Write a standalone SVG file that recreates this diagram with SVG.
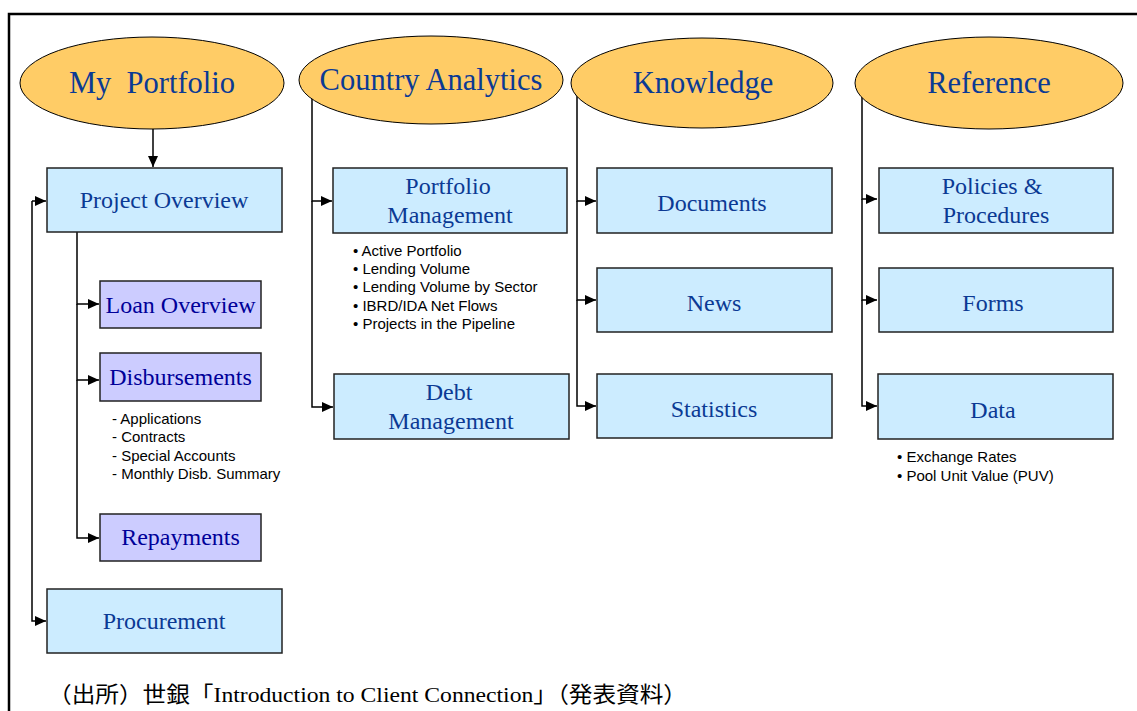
<svg xmlns="http://www.w3.org/2000/svg" width="1137" height="711" viewBox="0 0 1137 711">
  <style>
    .frame { stroke: #000; stroke-width: 2.5; fill: none; }
    .oval { fill: #FFCC66; stroke: #000; stroke-width: 1; }
    .oval-label { font-family: "Liberation Serif", "Times New Roman", serif; font-size: 30.5px; fill: #0B3A94; text-anchor: middle; }
    .box { fill: #CCECFF; stroke: #222; stroke-width: 1.5; }
    .sub { fill: #CCCCFF; stroke: #222; stroke-width: 1.5; }
    .box-label { font-family: "Liberation Serif", "Times New Roman", serif; font-size: 24px; fill: #0B3A94; text-anchor: middle; }
    .sub-label { font-family: "Liberation Serif", "Times New Roman", serif; font-size: 24px; fill: #000099; text-anchor: middle; }
    .note { font-family: "Liberation Sans", Arial, sans-serif; font-size: 15px; fill: #000; }
    .source { font-family: "Liberation Serif", "Noto Sans CJK JP", serif; font-size: 22px; fill: #000; }
    .link { stroke: #000; stroke-width: 1.5; fill: none; }
  </style>
  <defs>
    <marker id="arrow" markerUnits="userSpaceOnUse" markerWidth="12" markerHeight="10" refX="11" refY="5" orient="auto">
      <path d="M0,0 L11,5 L0,10 Z" fill="#000"/>
    </marker>
  </defs>

  <rect width="1137" height="711" fill="#fff"/>
  <!-- page frame -->
  <path class="frame" d="M9,711 V14 H1137"/>

  <!-- connectors -->
  <g id="connectors">
    <path class="link" d="M153,129 V167" marker-end="url(#arrow)"/>
    <path class="link" d="M32,201 H46" marker-end="url(#arrow)"/>
    <path class="link" d="M32,201 V621 H46" marker-end="url(#arrow)"/>
    <path class="link" d="M77,232 V304 H99" marker-end="url(#arrow)"/>
    <path class="link" d="M77,304 V380 H99" marker-end="url(#arrow)"/>
    <path class="link" d="M77,380 V538 H99" marker-end="url(#arrow)"/>

    <path class="link" d="M312,80 V201 H332" marker-end="url(#arrow)"/>
    <path class="link" d="M312,201 V407 H333" marker-end="url(#arrow)"/>

    <path class="link" d="M577,83 V201 H596" marker-end="url(#arrow)"/>
    <path class="link" d="M577,201 V300 H596" marker-end="url(#arrow)"/>
    <path class="link" d="M577,300 V406 H596" marker-end="url(#arrow)"/>

    <path class="link" d="M862,83 V199 H877" marker-end="url(#arrow)"/>
    <path class="link" d="M862,199 V300 H877" marker-end="url(#arrow)"/>
    <path class="link" d="M862,300 V406 H877" marker-end="url(#arrow)"/>
  </g>

  <!-- top-level menus -->
  <g id="my-portfolio">
    <ellipse class="oval" cx="152" cy="83" rx="132" ry="46"/>
    <text class="oval-label" x="152" y="93" xml:space="preserve">My  Portfolio</text>
  </g>
  <g id="country-analytics">
    <ellipse class="oval" cx="431" cy="80" rx="132" ry="44"/>
    <text class="oval-label" x="431" y="90">Country Analytics</text>
  </g>
  <g id="knowledge">
    <ellipse class="oval" cx="702" cy="83" rx="131" ry="45"/>
    <text class="oval-label" x="703" y="93">Knowledge</text>
  </g>
  <g id="reference">
    <ellipse class="oval" cx="989" cy="83" rx="134" ry="46"/>
    <text class="oval-label" x="989" y="93">Reference</text>
  </g>

  <!-- My Portfolio pages -->
  <g id="project-overview">
    <rect class="box" x="47" y="168" width="235" height="64"/>
    <text class="box-label" x="164" y="208">Project Overview</text>
  </g>
  <g id="loan-overview">
    <rect class="sub" x="100" y="281" width="161" height="47"/>
    <text class="sub-label" x="180.5" y="313">Loan Overview</text>
  </g>
  <g id="disbursements">
    <rect class="sub" x="100" y="353" width="161" height="48"/>
    <text class="sub-label" x="180.5" y="385">Disbursements</text>
    <text class="note" x="112" y="424">- Applications</text>
    <text class="note" x="112" y="442">- Contracts</text>
    <text class="note" x="112" y="461">- Special Accounts</text>
    <text class="note" x="112" y="479">- Monthly Disb. Summary</text>
  </g>
  <g id="repayments">
    <rect class="sub" x="100" y="514" width="161" height="47"/>
    <text class="sub-label" x="180.5" y="545">Repayments</text>
  </g>
  <g id="procurement">
    <rect class="box" x="47" y="589" width="235" height="64"/>
    <text class="box-label" x="164" y="629">Procurement</text>
  </g>

  <!-- Country Analytics pages -->
  <g id="portfolio-management">
    <rect class="box" x="333" y="168" width="234" height="65"/>
    <text class="box-label" x="448" y="194">Portfolio</text>
    <text class="box-label" x="450" y="223">Management</text>
    <text class="note" x="353" y="256">• Active Portfolio</text>
    <text class="note" x="353" y="274">• Lending Volume</text>
    <text class="note" x="353" y="292">• Lending Volume by Sector</text>
    <text class="note" x="353" y="311">• IBRD/IDA Net Flows</text>
    <text class="note" x="353" y="329">• Projects in the Pipeline</text>
  </g>
  <g id="debt-management">
    <rect class="box" x="334" y="374" width="235" height="65"/>
    <text class="box-label" x="449" y="400">Debt</text>
    <text class="box-label" x="451" y="429">Management</text>
  </g>

  <!-- Knowledge pages -->
  <g id="documents">
    <rect class="box" x="597" y="168" width="235" height="65"/>
    <text class="box-label" x="712" y="211">Documents</text>
  </g>
  <g id="news">
    <rect class="box" x="597" y="268" width="235" height="64"/>
    <text class="box-label" x="714" y="311">News</text>
  </g>
  <g id="statistics">
    <rect class="box" x="597" y="374" width="235" height="64"/>
    <text class="box-label" x="714" y="417">Statistics</text>
  </g>

  <!-- Reference pages -->
  <g id="policies-procedures">
    <rect class="box" x="879" y="168" width="234" height="65"/>
    <text class="box-label" x="992" y="194">Policies &amp;</text>
    <text class="box-label" x="996" y="223">Procedures</text>
  </g>
  <g id="forms">
    <rect class="box" x="879" y="268" width="234" height="64"/>
    <text class="box-label" x="993" y="311">Forms</text>
  </g>
  <g id="data">
    <rect class="box" x="878" y="374" width="235" height="65"/>
    <text class="box-label" x="993" y="418">Data</text>
    <text class="note" x="897" y="462">• Exchange Rates</text>
    <text class="note" x="897" y="481">• Pool Unit Value (PUV)</text>
  </g>

  <!-- source line -->
  <text class="source" x="48" y="702" textLength="639" lengthAdjust="spacingAndGlyphs">（出所）世銀「Introduction to Client Connection」（発表資料）</text>
</svg>
